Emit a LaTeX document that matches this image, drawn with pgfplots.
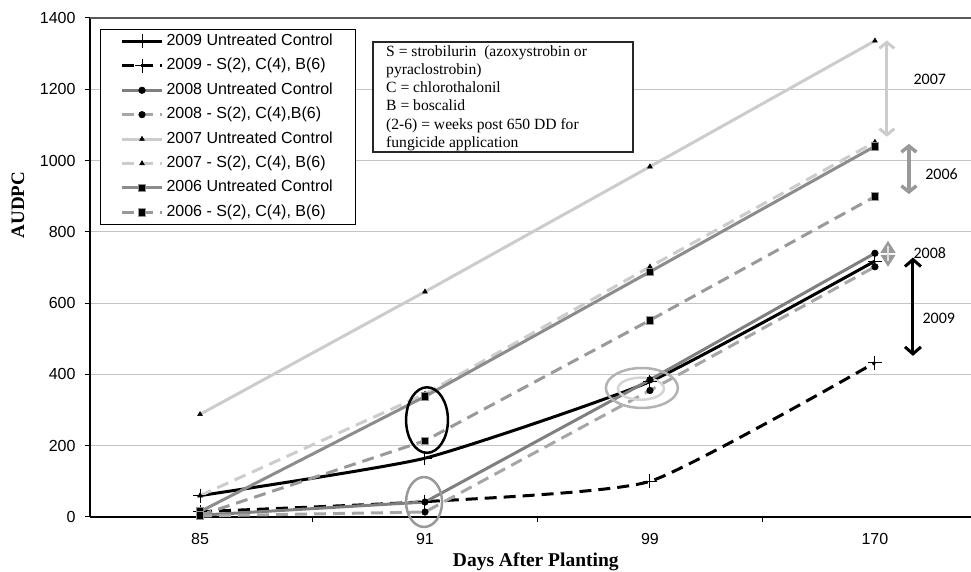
\documentclass[border=0pt]{standalone}
\usepackage{fontspec}
\setmainfont{Liberation Serif}
\newfontfamily\arialf{Liberation Sans}
\newfontfamily\calf{Carlito}
\usepackage{pgfplots}
\pgfplotsset{compat=1.18}
\usetikzlibrary{arrows.meta}
\definecolor{cNine}{HTML}{000000}
\definecolor{cEightA}{HTML}{7F7F7F}
\definecolor{cEightB}{HTML}{A6A6A6}
\definecolor{cSeven}{HTML}{CCCCCC}
\definecolor{cSixA}{HTML}{8C8C8C}
\definecolor{cSixB}{HTML}{999999}
\definecolor{gridc}{HTML}{C4C4C4}
\begin{document}
\begin{tikzpicture}
\begin{axis}[
  at={(0,0)}, anchor=south west,
  scale only axis, width=881pt, height=499pt,
  xmin=-0.489, xmax=3.427, ymin=0, ymax=1400,
  clip=false,
  axis x line*=bottom, axis y line*=left,
  x axis line style={line width=2.6pt, -},
  y axis line style={line width=2.2pt, -},
  xtick={0,1,2,3}, xticklabels={85,91,99,170},
  minor xtick={0.5,1.5,2.5},
  major x tick style={draw=none},
  minor x tick style={line width=1pt, black},
  tick align=outside,
  minor tick length=5pt,
  ytick={0,200,...,1400},
  major tick length=5pt,
  ytick style={line width=1pt, black},
  ymajorgrids,
  major grid style={gridc, line width=1.2pt},
  /pgf/number format/assume math mode=true,
  /pgf/number format/1000 sep={},
  tick label style={font=\arialf\fontsize{16}{19}\selectfont},
  xticklabel style={yshift=-8pt},
  yticklabel style={xshift=-6pt},
  xlabel={Days After Planting},
  ylabel={AUDPC},
  xlabel style={font=\bfseries\fontsize{19.5}{22}\selectfont, at={(rel axis cs:0.506,0)}, anchor=base, yshift=-50pt},
  ylabel style={font=\bfseries\fontsize{19}{22}\selectfont, at={(rel axis cs:0,0.625)}, anchor=center, yshift=72pt},
  legend style={at={(rel axis cs:0.01135,0.978)}, anchor=north west, draw=black, line width=1pt,
    font=\arialf\fontsize{16}{19}\selectfont, cells={anchor=west},
    inner xsep=20pt, inner ysep=1pt, row sep=2.4pt,
    nodes={inner sep=3pt, text height=12pt, text depth=4pt}},
  legend image code/.code={\draw[mark repeat=2,mark phase=2] plot coordinates {(0pt,0pt)(20pt,0pt)(40pt,0pt)};},
]
% 2009 Untreated Control
\addplot[cNine, line width=3pt, smooth, tension=0.3, mark=+, mark size=7pt, mark options={line width=1pt, solid, black}]
  coordinates {(0,60)(1,165)(2,380)(3,718)};
\addlegendentry{2009 Untreated Control}
% 2009 treated
\addplot[cNine, line width=3pt, smooth, tension=0.3, dash pattern=on 12pt off 7pt, mark=+, mark size=7pt, mark options={line width=1pt, solid, black}]
  coordinates {(0,15)(1,43)(2,100)(3,433)};
\addlegendentry{2009 - S(2), C(4), B(6)}
% 2008 Untreated Control
\addplot[cEightA, line width=3pt, mark=*, mark size=3.3pt, mark options={solid, line width=0.5pt, fill=black, draw=black}]
  coordinates {(0,5)(1,42)(2,385)(3,740)};
\addlegendentry{2008 Untreated Control}
% 2008 treated
\addplot[cEightB, line width=3pt, dash pattern=on 12pt off 7pt, mark=*, mark size=3.3pt, mark options={solid, line width=0.5pt, fill=black, draw=black}]
  coordinates {(0,3)(1,14)(2,355)(3,702)};
\addlegendentry{2008 - S(2), C(4),B(6)}
% 2007 Untreated Control
\addplot[cSeven, line width=3pt, mark=triangle*, mark size=2.8pt, mark options={solid, line width=0.5pt, fill=black, draw=black}]
  coordinates {(0,288)(1,632)(2,983)(3,1336)};
\addlegendentry{2007 Untreated Control}
% 2007 treated
\addplot[cSeven, line width=3pt, dash pattern=on 12pt off 7pt, mark=triangle*, mark size=2.8pt, mark options={solid, line width=0.5pt, fill=black, draw=black}]
  coordinates {(0,60)(1,345)(2,702)(3,1052)};
\addlegendentry{2007 - S(2), C(4), B(6)}
% 2006 Untreated Control
\addplot[cSixA, line width=3pt, mark=square*, mark size=3.8pt, mark options={solid, line width=0.8pt, fill=black, draw=cSixA}]
  coordinates {(0,15)(1,338)(2,688)(3,1040)};
\addlegendentry{2006 Untreated Control}
% 2006 treated
\addplot[cSixB, line width=3pt, dash pattern=on 12pt off 7pt, mark=square*, mark size=3.8pt, mark options={solid, line width=0.8pt, fill=black, draw=cSixB}]
  coordinates {(0,5)(1,214)(2,552)(3,899)};
\addlegendentry{2006 - S(2), C(4), B(6)}

% top border of plot area
\draw[color=black!65, line width=1.2pt] (rel axis cs:0,1) -- (rel axis cs:1,1);

% ellipses
\draw[black, line width=2.5pt] (axis cs:1.009,272) ellipse [x radius=0.093, y radius=92];
\draw[cSixB, line width=2.5pt] (axis cs:0.996,42) ellipse [x radius=0.08, y radius=70];
\draw[black!30, line width=2.5pt] (axis cs:1.964,362) ellipse [x radius=0.16, y radius=56];
\draw[black!17, line width=2.5pt] (axis cs:1.96,360) ellipse [x radius=0.102, y radius=31];

% arrows
\draw[cSeven, line width=3pt, {Straight Barb[length=6pt,width=15pt]}-{Straight Barb[length=6pt,width=15pt]}]
  (axis cs:3.053,1337) -- (axis cs:3.053,1067);
\draw[cSixB, line width=3.5pt, {Straight Barb[length=6pt,width=15pt]}-{Straight Barb[length=6pt,width=15pt]}]
  (axis cs:3.151,1047) -- (axis cs:3.151,906);
\draw[cSixB, line width=1pt, {Triangle[length=12pt,width=15pt]}-{Triangle[length=12pt,width=15pt]}]
  (axis cs:3.058,775) -- (axis cs:3.058,702);
\draw[black!12, line width=1.5pt] (axis cs:3.058,760) -- (axis cs:3.058,717);
\draw[black, line width=3pt, {Straight Barb[length=7pt,width=16pt]}-{Straight Barb[length=7pt,width=16pt]}]
  (axis cs:3.169,728) -- (axis cs:3.169,452);

% arrow labels
\node[font=\calf\fontsize{16}{19}\selectfont] at (axis cs:3.244,1229) {2007};
\node[font=\calf\fontsize{16}{19}\selectfont] at (axis cs:3.296,962) {2006};
\node[font=\calf\fontsize{16}{19}\selectfont] at (axis cs:3.244,741) {2008};
\node[font=\calf\fontsize{16}{19}\selectfont] at (axis cs:3.284,558) {2009};

% annotation box
\filldraw[fill=white, draw=black!85, line width=1.2pt] (rel axis cs:0.3212,0.9519) rectangle (rel axis cs:0.6163,0.7315);
\node[anchor=north west, inner xsep=0pt, inner ysep=3pt, align=left, font=\fontsize{15.6}{18.3}\selectfont]
  at (rel axis cs:0.3360,0.9519)
  {S = strobilurin\ \ (azoxystrobin or\\ pyraclostrobin)\\ C = chlorothalonil\\ B = boscalid\\ (2-6) = weeks post 650 DD for\\ fungicide application};
\end{axis}
\pgfresetboundingbox
\path (-90pt,-55pt) rectangle (881pt,517pt);
\end{tikzpicture}
\end{document}
